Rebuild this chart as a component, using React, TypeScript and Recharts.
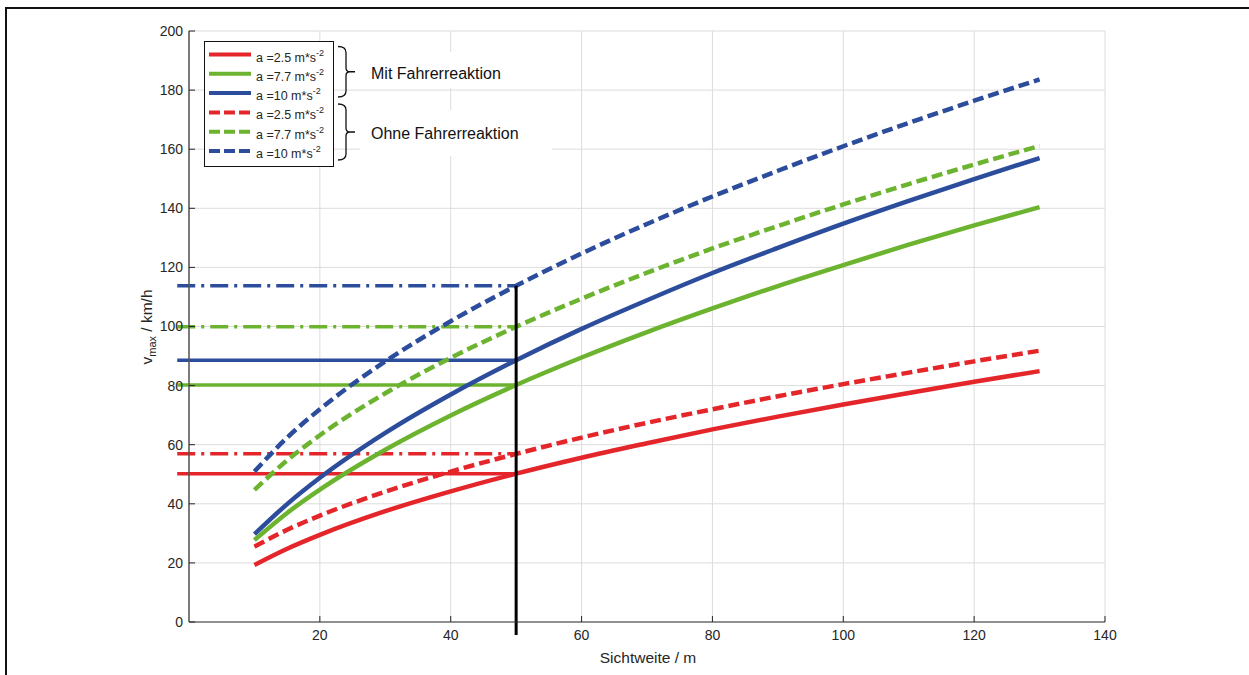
import React from 'react';
import {
  LineChart,
  Line,
  XAxis,
  YAxis,
  CartesianGrid,
  ReferenceLine,
  Legend,
} from 'recharts';

// Sichtweite (m) and v_max (km/h)
const sight = [10, 15, 20, 30, 40, 50, 60, 70, 80, 90, 100, 110, 120, 130];
const mit25 = [19.3, 24.8, 29.5, 37.5, 44.2, 50.2, 55.6, 60.5, 65.2, 69.5, 73.6, 77.5, 81.3, 84.9];
const mit77 = [27.7, 36.9, 44.8, 58.3, 69.9, 80.2, 89.5, 98.1, 106.1, 113.7, 120.8, 127.7, 134.2, 140.4];
const mit10 = [29.7, 39.9, 48.8, 64.0, 77.0, 88.6, 99.2, 108.9, 118.1, 126.6, 134.8, 142.5, 149.9, 157.0];
const ohne25 = [25.5, 31.2, 36.0, 44.1, 50.9, 56.9, 62.4, 67.4, 72.0, 76.4, 80.5, 84.4, 88.2, 91.8];
const ohne77 = [44.7, 54.7, 63.2, 77.4, 89.4, 99.9, 109.4, 118.2, 126.4, 134.0, 141.3, 148.2, 154.8, 161.1];
const ohne10 = [50.9, 62.4, 72.0, 88.2, 101.8, 113.8, 124.7, 134.7, 144.0, 152.7, 161.0, 168.9, 176.4, 183.6];

// marked speeds at 50 m sight distance
const markSight = 50;
const markSolid = [50.2, 80.2, 88.6];
const markDashed = [56.9, 99.9, 113.8];

const xTicks = [20, 40, 60, 80, 100, 120, 140];
const yTicks = [0, 20, 40, 60, 80, 100, 120, 140, 160, 180, 200];
const accelLabels = ['2.5', '7.7', '10'];

const RED = '#e4262b';
const GREEN = '#6cb42f';
const BLUE = '#2c4c9c';
const COLORS = [RED, GREEN, BLUE];
const FONT = '"Liberation Sans", Arial, Helvetica, sans-serif';
const TEXT = '#262626';

const data = sight.map((s, i) => ({
  s,
  mit25: mit25[i],
  mit77: mit77[i],
  mit10: mit10[i],
  ohne25: ohne25[i],
  ohne77: ohne77[i],
  ohne10: ohne10[i],
}));

const XTick = ({ x, y, payload }: any) => (
  <g>
    <line x1={x} x2={x} y1={y - 8} y2={y - 14} stroke={TEXT} strokeWidth={1} />
    <text x={x} y={y} dy='0.71em' textAnchor='middle' fill={TEXT} fontSize={14} fontFamily={FONT}>
      {payload.value}
    </text>
  </g>
);

const YTick = ({ x, y, payload }: any) => (
  <g>
    <line x1={x + 6} x2={x + 12} y1={y} y2={y} stroke={TEXT} strokeWidth={1} />
    <text x={x} y={y} dy='0.355em' textAnchor='end' fill={TEXT} fontSize={14} fontFamily={FONT}>
      {payload.value}
    </text>
  </g>
);

const YLabel = () => (
  <text
    x={0}
    y={0}
    transform='translate(152 327) rotate(-90)'
    textAnchor='middle'
    fill={TEXT}
    fontSize={15.5}
    fontFamily={FONT}
  >
    <tspan>v</tspan>
    <tspan fontSize={11} dy={4}>max</tspan>
    <tspan dy={-4}> / km/h</tspan>
  </text>
);

const XLabel = () => (
  <text x={648} y={663} textAnchor='middle' fill={TEXT} fontSize={15.5} fontFamily={FONT}>
    Sichtweite / m
  </text>
);

const Brace = ({ top, bottom }: { top: number; bottom: number }) => {
  const mid = (top + bottom) / 2;
  const d = `M338 ${top} Q346 ${top} 346 ${top + 6} L346 ${mid - 4} Q346 ${mid} 350 ${mid} L355 ${mid} M350 ${mid} Q346 ${mid} 346 ${mid + 4} L346 ${bottom - 6} Q346 ${bottom} 338 ${bottom}`;
  return <path d={d} fill='none' stroke='#111' strokeWidth={1.3} />;
};

const LegendBox = () => {
  const rows = [
    ...accelLabels.map((a, i) => ({ a, color: COLORS[i], dashed: false })),
    ...accelLabels.map((a, i) => ({ a, color: COLORS[i], dashed: true })),
  ];
  return (
    <svg width={1249} height={675} style={{ position: 'absolute', left: 0, top: 0 }}>
      <rect x={360} y={52} width={185} height={36} fill='white' />
      <rect x={360} y={110} width={192} height={46} fill='white' />
      <rect x={204.5} y={41.5} width={129} height={125} fill='white' stroke='#111' strokeWidth={1} />
      {rows.map((r, i) => {
        const y = 54.5 + i * 19.3;
        return (
          <g key={i}>
            <line
              x1={209}
              x2={251}
              y1={y}
              y2={y}
              stroke={r.color}
              strokeWidth={4}
              strokeDasharray={r.dashed ? '11 4' : undefined}
            />
            <text x={256} y={y + 7} fill={TEXT} fontSize={12.5} fontFamily={FONT}>
              <tspan>{`a =${r.a} m*s`}</tspan>
              <tspan fontSize={9} dy={-6}>-2</tspan>
            </text>
          </g>
        );
      })}
      <Brace top={46.5} bottom={97} />
      <Brace top={104} bottom={160} />
      <text x={371} y={79} fill='#111' fontSize={16} fontFamily={FONT}>
        Mit Fahrerreaktion
      </text>
      <text x={371} y={139} fill='#111' fontSize={16} fontFamily={FONT}>
        Ohne Fahrerreaktion
      </text>
    </svg>
  );
};

export default function App() {
  return (
    <div style={{ position: 'absolute', left: 0, top: 0, width: 1249, height: 675, background: 'white', overflow: 'hidden' }}>
      <div
        style={{
          position: 'absolute',
          left: 5,
          top: 7,
          width: 1300,
          height: 700,
          borderLeft: '2px solid #111',
          borderTop: '2px solid #111',
        }}
      />
      <LineChart
        width={1249}
        height={675}
        data={data}
        margin={{ top: 31, right: 144, bottom: 13, left: 129 }}
        style={{ position: 'absolute', left: 0, top: 0 }}
      >
        <CartesianGrid stroke='#dcdcdc' strokeWidth={1} />
        <XAxis
          dataKey='s'
          type='number'
          domain={[0, 140]}
          ticks={xTicks}
          height={40}
          tickSize={0}
          tickMargin={8}
          tickLine={false}
          tick={<XTick />}
          axisLine={{ stroke: '#333', strokeWidth: 1.2 }}
          label={<XLabel />}
          allowDataOverflow
        />
        <YAxis
          type='number'
          domain={[0, 200]}
          ticks={yTicks}
          width={60}
          tickSize={0}
          tickMargin={6}
          tickLine={false}
          tick={<YTick />}
          axisLine={{ stroke: '#555', strokeWidth: 1.5 }}
          label={<YLabel />}
          allowDataOverflow
        />
        <Legend
          layout='vertical'
          align='center'
          verticalAlign='middle'
          content={() => <LegendBox />}
          wrapperStyle={{ position: 'absolute', left: 0, top: 0, width: 1249, height: 675, pointerEvents: 'none' }}
        />
        {markSolid.map((v, i) => (
          <ReferenceLine
            key={`hs-${i}`}
            segment={[{ x: -1.8, y: v }, { x: markSight, y: v }]}
            stroke={COLORS[i]}
            strokeWidth={3.5}
            ifOverflow='visible'
          />
        ))}
        {markDashed.map((v, i) => (
          <ReferenceLine
            key={`hd-${i}`}
            segment={[{ x: -1.8, y: v }, { x: markSight, y: v }]}
            stroke={COLORS[i]}
            strokeWidth={3.5}
            strokeDasharray='18 6 3 6'
            ifOverflow='visible'
          />
        ))}
        <Line type='monotone' dataKey='mit25' stroke={RED} strokeWidth={4.5} dot={false} isAnimationActive={false} />
        <Line type='monotone' dataKey='mit77' stroke={GREEN} strokeWidth={4.5} dot={false} isAnimationActive={false} />
        <Line type='monotone' dataKey='mit10' stroke={BLUE} strokeWidth={4.5} dot={false} isAnimationActive={false} />
        <Line type='monotone' dataKey='ohne25' stroke={RED} strokeWidth={4.5} strokeDasharray='11 5' dot={false} isAnimationActive={false} />
        <Line type='monotone' dataKey='ohne77' stroke={GREEN} strokeWidth={4.5} strokeDasharray='11 5' dot={false} isAnimationActive={false} />
        <Line type='monotone' dataKey='ohne10' stroke={BLUE} strokeWidth={4.5} strokeDasharray='11 5' dot={false} isAnimationActive={false} />
        <ReferenceLine
          segment={[{ x: markSight, y: 113.8 }, { x: markSight, y: -4.4 }]}
          stroke='#000'
          strokeWidth={3}
          ifOverflow='visible'
        />
      </LineChart>
    </div>
  );
}
